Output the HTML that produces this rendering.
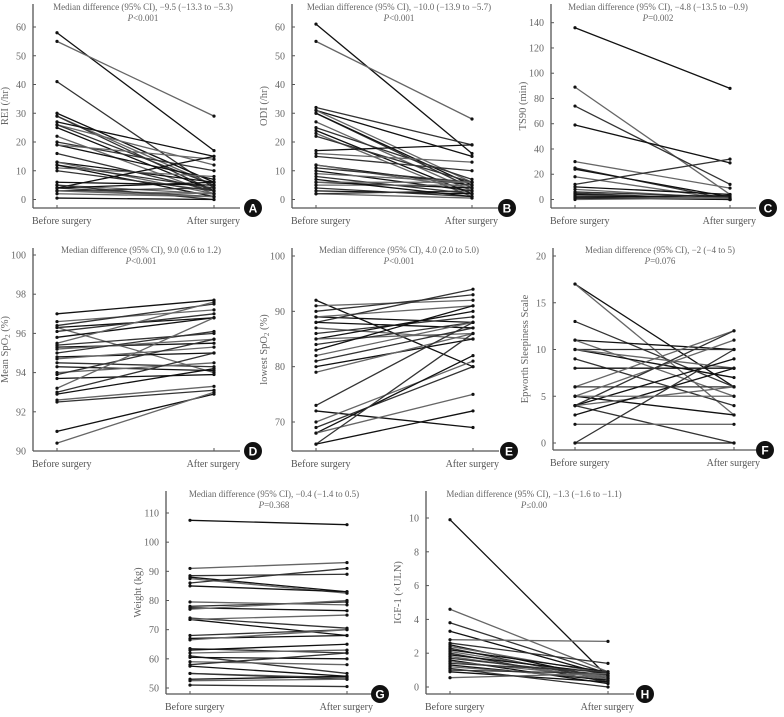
<!DOCTYPE html>
<html><head><meta charset="utf-8"><style>
body{margin:0;background:#fff}
svg{display:block}
svg text{font-family:"Liberation Serif",serif}
</style></head><body>
<svg id="c" width="784" height="717" font-family="Liberation Serif, serif"></svg>
<script>
const aBefore=[58,55,41,30,29,29,27,26,26,25,22,20,19,19,16,13,13,12,12,11,10,6,5,4,4,3,3,4,2,5,0.5,3];
const aAfter=[17,29,4,6,5,3,15,12,5,3,2,10,7,14,3,6,2,4,1,8,3,5,2,1,15,2,4,6,1,0,0,1];
const bBefore=[61,55,32,31,31,30,30,27,25,24,23,22,17,16,15,12,12,11,10,9,8,6,5,4,3,2,2,7,6];
const bAfter=[16,28,19,15,6,4,5,3,7,2,1,6,19,13,10,5,4,6,3,6,2,4,5,1,2,0.5,3,1,6];
const cBefore=[136,89,74,59,30,25,24,18,12,10,8,5,4,3,2,1,0,6,2];
const cAfter=[88,4,12,29,9,0,2,0,32,4,1,0,0,1,0,0,1,2,3];
const dBefore=[97,96.6,96.4,96.3,96.3,96.1,95.8,95.5,95.4,95.3,95.2,95,94.8,94.7,94.5,94.3,94,93.9,93.7,93.2,93,92.9,92.6,92.5,91,90.4];
const dAfter=[97.7,97.2,97.5,96.8,94,97,96.8,97.6,96,95.5,95.7,96.1,95,95.3,94.3,94.1,94.5,95.7,93.9,96.8,95,94.2,93.3,93.1,92.9,93];
const eBefore=[92,91,90,89,89,88,88,87,86,85,85,84,83,82,81,80,79,73,72,70,69,68,68,66,66];
const eAfter=[80,92,93,88,91,94,87,85,89,90,86,88,91,88,87,85,86,88,69,81,80,82,75,86,72];
const fBefore=[17,17,13,11,11,10,10,10,9,8,6,6,5,5,4,4,4,4,3,2,0,0,5];
const fAfter=[6,3,6,10,5,10,7,8,4,8,12,6,3,11,12,9,6,0,8,2,10,0,5];
const gBefore=[107.5,91,88.5,88,87.5,86,85,79.5,78,77.5,77,74,73.5,73.5,68,67,66.5,63.5,63,62,61,60.5,59,58,57.5,55,55,53,52.5,51];
const gAfter=[106,93,89,83,82.5,91,83,78.5,79.5,76.5,80,70.5,68,75,70,68,70,62,65,63,55,60,58,62,54,53.5,53,54,53,50.5];
const hBefore=[9.9,4.6,3.8,3.3,2.8,2.6,2.5,2.4,2.3,2.2,2.1,2.0,1.9,1.8,1.7,1.6,1.5,1.4,1.3,1.2,1.0,0.9,0.55,1.1];
const hAfter=[0.6,0.9,0.8,0.7,2.7,1.4,0.5,0.8,0.4,0.9,0.6,0.3,0.8,0.5,0.7,0.2,0.6,0.9,0.4,0.5,0.8,0.3,0.8,0.0];
const aTicks=[0,10,20,30,40,50,60],bTicks=[0,10,20,30,40,50,60],cTicks=[0,20,40,60,80,100,120,140];
const dTicks=[90,92,94,96,98,100],eTicks=[70,80,90,100],fTicks=[0,5,10,15,20];
const gTicks=[50,60,70,80,90,100,110],hTicks=[0,2,4,6,8,10];

const svg=document.getElementById('c');
const NS='http://www.w3.org/2000/svg';
function mk(tag,at,parent){const e=document.createElementNS(NS,tag);for(const k in at)e.setAttribute(k,at[k]);(parent||svg).appendChild(e);return e;}

function panel(p){
  const g=mk('g',{});
  
  
  const Y=v=>p.p0+(v-p.v0)*(p.p1-p.p0)/(p.v1-p.v0);
  const ya=mk('line',{x1:p.ax0,y1:p.top,x2:p.ax0,y2:p.bot,stroke:'#555','stroke-width':1.3},g);
  
  
  const xa=mk('line',{x1:p.ax0,y1:p.bot,x2:p.aft+26,y2:p.bot,stroke:'#555','stroke-width':1.3},g);
  
  
  [p.bef,p.aft].forEach(x=>mk('line',{x1:x,y1:p.bot,x2:x,y2:p.bot-3,stroke:'#555'},g));
  p.ticks.forEach(t=>{
    mk('line',{x1:p.ax0,y1:Y(t),x2:p.ax0+3,y2:Y(t),stroke:'#555'},g);
    const tx=mk('text',{x:p.ax0-7,y:Y(t)+3.5,'text-anchor':'end','font-size':10,fill:'#666'},g);
    tx.textContent=t;
    
    
  });
  const yl=mk('text',{transform:`translate(${p.ax0-25},${(p.top+p.bot)/2}) rotate(-90)`,'text-anchor':'middle','font-size':10.5,fill:'#666'},g);
  yl.innerHTML=p.ylabel;
  
  
  const t1=mk('text',{x:p.tcx,y:p.ty,'text-anchor':'middle','font-size':9,fill:'#666'},g);
  t1.textContent=p.t1;
  
  
  const t2=mk('text',{x:p.tcx,y:p.ty+11,'text-anchor':'middle','font-size':9,fill:'#666'},g);
  t2.innerHTML='<tspan font-style="italic">P</tspan>'+p.t2;
  
  
  const l1=mk('text',{x:p.bef-25,y:p.bot+16,'font-size':10,fill:'#555'},g);
  l1.textContent='Before surgery';
  
  
  const l2=mk('text',{x:p.aft+26,y:p.bot+16,'text-anchor':'end','font-size':10,fill:'#555'},g);
  l2.textContent='After surgery';
  
  
  p.b.forEach((v,i)=>{
    const col=i%3===1?'#666':(i%3===2?'#333':'#111');
    const ln=mk('line',{x1:p.bef,y1:Y(v),x2:p.aft,y2:Y(p.a[i]),stroke:col,'stroke-width':1.3},g);
    
    
    mk('circle',{cx:p.bef,cy:Y(v),r:1.6,fill:'#111'},g);
    mk('circle',{cx:p.aft,cy:Y(p.a[i]),r:1.6,fill:'#111'},g);
  });
  const cg=mk('g',{},g);
  
  
  mk('circle',{cx:p.cx,cy:p.bot,r:9,fill:'#111'},cg);
  const lt=mk('text',{x:p.cx,y:p.bot+4.5,'text-anchor':'middle',fill:'#fff',style:'font-family:"Liberation Sans",sans-serif;font-size:12px;font-weight:bold'},cg);
  lt.textContent=p.letter;
}
panel({letter:'A',ax0:33,top:4,bot:208,bef:57,aft:214,v0:0,p0:199.5,v1:60,p1:27,ticks:aTicks,b:aBefore,a:aAfter,ylabel:'REI (/hr)',t1:'Median difference (95% CI), \u22129.5 (\u221213.3 to \u22125.3)',t2:'<0.001',tcx:143,ty:10,cx:253});
panel({letter:'B',ax0:292,top:4,bot:208,bef:316,aft:472,v0:0,p0:199.5,v1:60,p1:27,ticks:bTicks,b:bBefore,a:bAfter,ylabel:'ODI (/hr)',t1:'Median difference (95% CI), \u221210.0 (\u221213.9 to \u22125.7)',t2:'<0.001',tcx:399,ty:10,cx:507});
panel({letter:'C',ax0:551,top:4,bot:208,bef:575,aft:730,v0:0,p0:199.5,v1:140,p1:22.7,ticks:cTicks,b:cBefore,a:cAfter,ylabel:'TS90 (min)',t1:'Median difference (95% CI), \u22124.8 (\u221213.5 to \u22120.9)',t2:'=0.002',tcx:658,ty:10,cx:768});
panel({letter:'D',ax0:33,top:248,bot:451,bef:57,aft:214,v0:90,p0:451,v1:100,p1:255,ticks:dTicks,b:dBefore,a:dAfter,ylabel:'Mean SpO<tspan font-size="7" dy="2">2</tspan><tspan dy="-2"> (%)</tspan>',t1:'Median difference (95% CI), 9.0 (0.6 to 1.2)',t2:'<0.001',tcx:141,ty:253,cx:253});
panel({letter:'E',ax0:292,top:248,bot:451,bef:316,aft:473,v0:70,p0:422,v1:100,p1:256,ticks:eTicks,b:eBefore,a:eAfter,ylabel:'lowest SpO<tspan font-size="7" dy="2">2</tspan><tspan dy="-2"> (%)</tspan>',t1:'Median difference (95% CI), 4.0 (2.0 to 5.0)',t2:'<0.001',tcx:399,ty:253,cx:509});
panel({letter:'F',ax0:553,top:248,bot:450,bef:575,aft:734,v0:0,p0:443,v1:20,p1:256,ticks:fTicks,b:fBefore,a:fAfter,ylabel:'Epworth Sleepiness Scale',t1:'Median difference (95% CI), \u22122 (\u22124 to 5)',t2:'=0.076',tcx:660,ty:253,cx:765});
panel({letter:'G',ax0:166,top:491,bot:694,bef:190,aft:347,v0:50,p0:688,v1:110,p1:513,ticks:gTicks,b:gBefore,a:gAfter,ylabel:'Weight (kg)',t1:'Median difference (95% CI), \u22120.4 (\u22121.4 to 0.5)',t2:'=0.368',tcx:274,ty:497,cx:380});
panel({letter:'H',ax0:426,top:491,bot:694,bef:450,aft:608,v0:0,p0:687,v1:10,p1:518,ticks:hTicks,b:hBefore,a:hAfter,ylabel:'IGF-1 (\u00d7ULN)',t1:'Median difference (95% CI), \u22121.3 (\u22121.6 to \u22121.1)',t2:'\u22640.00',tcx:534,ty:497,cx:645});
</script>
</body></html>
